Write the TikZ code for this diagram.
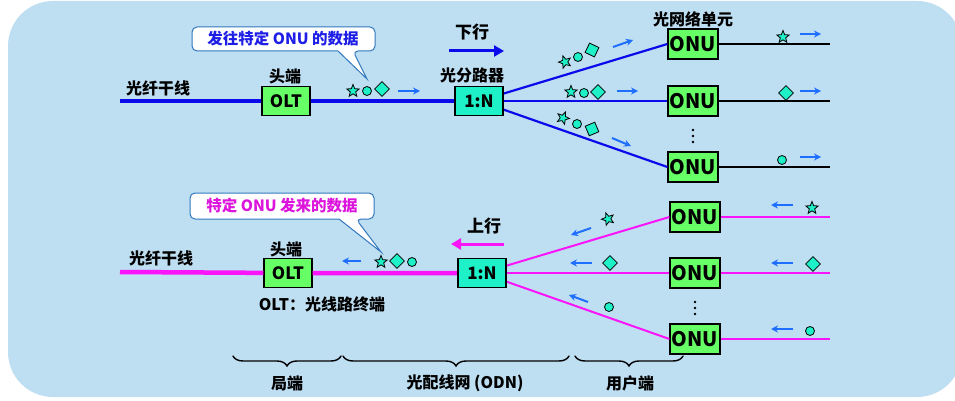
\documentclass[tikz,border=0pt]{standalone}
\usepackage{fontspec}
\setmainfont{Noto Sans CJK SC}
\usetikzlibrary{shapes.geometric, arrows.meta, decorations.pathreplacing}

\definecolor{bgblue}{RGB}{190,222,242}
\definecolor{trunkblue}{RGB}{10,10,235}
\definecolor{upmag}{RGB}{250,20,250}
\definecolor{flowblue}{RGB}{30,110,255}
\definecolor{boxgreen}{RGB}{102,255,102}
\definecolor{tokteal}{RGB}{30,240,200}
\definecolor{noteline}{RGB}{50,120,190}
\definecolor{downtext}{RGB}{30,30,230}
\definecolor{uptext}{RGB}{220,20,220}

\tikzset{
    lbl/.style={font=\bfseries\fontsize{16}{16}\selectfont, inner sep=0pt},
    unitbox/.style={draw=black, line width=1.2pt, fill=boxgreen, minimum width=50pt, minimum height=30pt, inner sep=0pt, font=\bfseries\fontsize{20}{20}\selectfont},
    oltbox/.style={unitbox, minimum width=48pt, minimum height=29pt, font=\bfseries\fontsize{17}{17}\selectfont},
    splitbox/.style={oltbox, fill=tokteal},
    tokstar/.style={star, star points=5, star point ratio=2.3, draw=black, line width=0.8pt, fill=tokteal, minimum size=13pt, inner sep=0pt},
    tokdot/.style={circle, draw=black, line width=0.8pt, fill=tokteal, minimum size=9pt, inner sep=0pt},
    tokdiam/.style={diamond, draw=black, line width=0.8pt, fill=tokteal, minimum size=15pt, inner sep=0pt},
    flow/.style={flowblue, line width=2pt, -{Stealth[length=7pt, width=7pt]}},
    notebox/.style={draw=noteline, line width=1pt, fill=white, rounded corners=5pt},
    notetext/.style={font=\bfseries\fontsize{15.5}{15.5}\selectfont, inner sep=0pt},
    downline/.style={trunkblue, line width=2.2pt},
    upline/.style={upmag, line width=2pt},
    endline/.style={black, line width=1.2pt},
    vdot/.style={circle, fill=black, minimum size=2.6pt, inner sep=0pt},
    stepbrace/.style={decorate, decoration={brace, mirror, amplitude=10pt, aspect=0.5}, line width=1.4pt, line cap=round}
}

\begin{document}
\begin{tikzpicture}[x=1pt, y=-1pt]

        \useasboundingbox (0,0) rectangle (955,401);
        \clip (0,0) rectangle (955,401);
        \fill[bgblue, rounded corners=45pt] (8,1) rectangle (962,397);

        % Callouts
        \draw[notebox] (192,39) -- (192,27) -- (375,27) -- (375,51) -- (353,51)
            [sharp corners] -- (367,79) -- (338,51) [rounded corners=5pt] -- (192,51) -- cycle;
        \node[notetext, text=downtext] (note1) at (283,39) {发往特定 ONU 的数据};
        \draw[notebox] (190,206) -- (190,193) -- (374,193) -- (374,219) -- (356,219)
            [sharp corners] -- (381,252) -- (339,219) [rounded corners=5pt] -- (190,219) -- cycle;
        \node[notetext, text=uptext] (note2) at (282,206) {特定 ONU 发来的数据};

        % Downstream
        \node[oltbox] (olt1) at (286,101) {OLT};
        \node[splitbox] (split1) at (479,101) {1:N};
        \node[unitbox] (onu1) at (693,44) {ONU};
        \node[unitbox] (onu2) at (693,101) {ONU};
        \node[unitbox] (onu3) at (693,167) {ONU};
        \coordinate (trunk1) at (120,101);
        \draw[trunkblue, line width=4.5pt] (trunk1) -- (olt1) -- (split1);
        \draw[downline] (split1.center) -- (onu1.west);
        \draw[downline] (split1.east) -- (onu2.west);
        \draw[downline] (split1.center) -- (onu3.west);
        \node[splitbox] at (split1) {1:N};
        \foreach \n/\y in {1/44, 2/101, 3/167}
            \draw[endline] (onu\n) -- (830,\y);

        \node[lbl, anchor=west] (fiber1) at (126,88) {光纤干线};
        \node[lbl] (head1) at (285,76) {头端};
        \node[lbl] (splitname) at (472,75) {光分路器};
        \node[lbl] (onuname) at (693,19) {光网络单元};
        \node[lbl, font=\bfseries\fontsize{17}{17}\selectfont] (down) at (472,32) {下行};
        \draw[trunkblue, line width=3pt, -{Triangle[length=10pt, width=11pt]}] (449,51) -- (504,51);
        \foreach \y in {130,136,142}
            \node[vdot] at (693,\y) {};

        % Downstream data
        \node[tokstar] (s1) at (353,91) {};
        \node[tokdot] (c1) at (367,91) {};
        \node[tokdiam] (d1) at (382,89) {};
        \draw[flow] (398,91) -- (420,91);
        \node[tokstar, rotate=19] (s2) at (565,62) {};
        \node[tokdot] (c2) at (578,57) {};
        \node[tokdiam, rotate=19] (d2) at (592,50) {};
        \draw[flow] (613,47) -- (633,40);
        \node[tokstar] (s3) at (571,92) {};
        \node[tokdot] (c3) at (584,93) {};
        \node[tokdiam] (d3) at (598,92) {};
        \draw[flow] (617,91) -- (638,91);
        \node[tokstar, rotate=-22] (s4) at (563,118) {};
        \node[tokdot] (c4) at (577,124) {};
        \node[tokdiam, rotate=-22] (d4) at (592,129) {};
        \draw[flow] (612,138) -- (631,146);
        \node[tokstar] (s5) at (783,37) {};
        \draw[flow] (800,34) -- (821,34);
        \node[tokdiam] (d5) at (786,93) {};
        \draw[flow] (800,91) -- (821,91);
        \node[tokdot] (c5) at (782,160) {};
        \draw[flow] (800,157) -- (821,157);

        % Upstream
        \node[oltbox] (olt2) at (288,273) {OLT};
        \node[splitbox] (split2) at (482,273) {1:N};
        \node[unitbox] (onu4) at (695,217) {ONU};
        \node[unitbox] (onu5) at (695,273) {ONU};
        \node[unitbox] (onu6) at (695,339) {ONU};
        \coordinate (trunk2) at (120,272);
        \draw[upmag, line width=4.5pt] (trunk2) -- (olt2) -- (split2);
        \draw[upline] (split2.center) -- (onu4.west);
        \draw[upline] (split2.east) -- (onu5.west);
        \draw[upline] (split2.center) -- (onu6.west);
        \node[splitbox] at (split2) {1:N};
        \foreach \n/\y in {4/217, 5/273, 6/339}
            \draw[upmag, line width=1.5pt] (onu\n) -- (830,\y);

        \node[lbl, anchor=west] (fiber2) at (129,258) {光纤干线};
        \node[lbl] (head2) at (286,249) {头端};
        \node[lbl] (oltname) at (322,304) {OLT：光线路终端};
        \node[lbl, font=\bfseries\fontsize{17}{17}\selectfont] (up) at (484,226) {上行};
        \draw[upmag, line width=3pt, -{Triangle[length=10pt, width=11pt]}] (504,244) -- (451,244);
        \foreach \y in {302,308,314}
            \node[vdot] at (695,\y) {};

        % Upstream data
        \node[tokstar] (s6) at (381,262) {};
        \node[tokdiam] (d6) at (397,261) {};
        \node[tokdot] (c6) at (412,262) {};
        \draw[flow] (361,261) -- (342,261);
        \node[tokstar, rotate=20] (s7) at (608,219) {};
        \draw[flow] (591,228) -- (571,235);
        \node[tokdiam] (d7) at (610,263) {};
        \draw[flow] (592,263) -- (570,263);
        \node[tokdot] (c7) at (609,307) {};
        \draw[flow] (588,302) -- (569,295);
        \node[tokstar] (s8) at (812,208) {};
        \draw[flow] (793,205) -- (771,205);
        \node[tokdiam] (d8) at (813,264) {};
        \draw[flow] (793,263) -- (771,263);
        \node[tokdot] (c8) at (810,331) {};
        \draw[flow] (793,329) -- (771,329);

        % Braces
        \coordinate (b0) at (233,356);
        \coordinate (b1) at (341,356);
        \coordinate (b2) at (343,356);
        \coordinate (b3) at (569,356);
        \coordinate (b4) at (575,356);
        \coordinate (b5) at (683,356);
        \draw[stepbrace] (b0) -- (b1);
        \draw[stepbrace] (b2) -- (b3);
        \draw[stepbrace] (b4) -- (b5);
        \node[lbl] (office) at (287,383) {局端};
        \node[lbl] (odn) at (465,383) {光配线网 (ODN)};
        \node[lbl] (user) at (630,383) {用户端};

    \end{tikzpicture}
\end{document}
